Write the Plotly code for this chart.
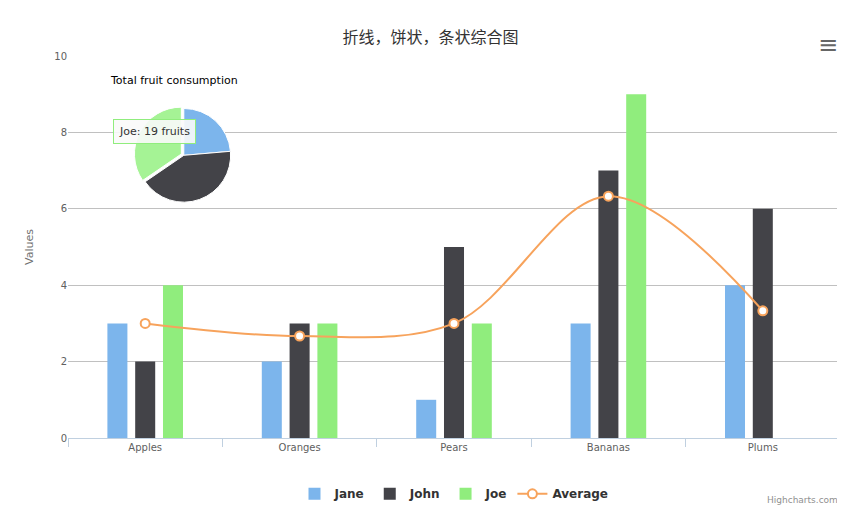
import plotly.graph_objects as go

categories = ["Apples", "Oranges", "Pears", "Bananas", "Plums"]
jane = [3, 2, 1, 3, 4]
john = [2, 3, 5, 7, 6]
joe = [4, 3, 3, 9, 0]
average = [3, 2.67, 3, 6.33, 3.33]
pie_labels = ["Jane", "John", "Joe"]
pie_values = [13, 23, 19]
colors = ["#7cb5ec", "#434348", "#90ed7d"]

fig = go.Figure()
for name, vals, c in zip(["Jane", "John", "Joe"], [jane, john, joe], colors):
    fig.add_bar(x=categories, y=vals, name=name, marker=dict(color=c, line=dict(width=0)))
fig.add_scatter(x=categories, y=average, name="Average", mode="lines+markers",
                line=dict(color="#f7a35c", width=2, shape="spline"),
                marker=dict(color="white", size=9, line=dict(color="#f7a35c", width=2)))
fig.add_pie(labels=pie_labels, values=pie_values, sort=False, direction="clockwise",
            marker=dict(colors=["#7cb5ec", "#434348", "#a5f395"], line=dict(color="white", width=1)),
            pull=[0, 0, 0.06], textinfo="none", showlegend=False,
            domain=dict(x=[0.085, 0.215], y=[0.61, 0.87]))

fig.update_layout(
    width=845, height=526, plot_bgcolor="white", paper_bgcolor="white",
    margin=dict(l=60, r=13, t=48, b=96, autoexpand=False),
    font=dict(family="DejaVu Sans", size=10, color="#606060"),
    title=dict(text="折线，饼状，条状综合图", x=0.5, y=0.955, xanchor="center",
               font=dict(family="Noto Sans CJK SC", size=16, color="#333333")),
    barmode="group", bargap=0.46, bargroupgap=0.28,
    xaxis=dict(showline=True, linecolor="#C0D0E0", ticks="outside", tickcolor="#C0D0E0",
               tickson="boundaries", ticklen=8, showgrid=False, range=[-0.5, 4.5],
               automargin=False, tickfont=dict(size=10)),
    yaxis=dict(range=[0, 10], dtick=2, gridcolor="#C0C0C0", zeroline=False, automargin=False,
               tickfont=dict(size=10),
               title=dict(text="Values", standoff=18, font=dict(size=11, color="#707070"))),
    legend=dict(orientation="h", x=0.5, xanchor="center", y=-0.146, yanchor="middle",
                font=dict(size=12, color="#333333", family="DejaVu Sans"), itemwidth=30),
    annotations=[
        dict(text="Total fruit consumption", x=(100-60)/772, y=(430-64)/382, xanchor="left",
             xref="paper", yref="paper",
             showarrow=False, font=dict(size=11, color="black")),
        dict(text="Highcharts.com", x=1, y=-0.18, xref="paper", yref="paper", xanchor="right",
             showarrow=False, font=dict(size=9, color="#909090")),
        dict(text="Joe: 19 fruits", x=0.058, y=0.835, xref="paper", yref="paper", xanchor="left",
             showarrow=False, bgcolor="rgba(249,249,249,0.9)", bordercolor="#90ed7d",
             borderwidth=1, borderpad=5, font=dict(size=11, color="#333333")),
        dict(text="≡", x=1.0, y=1.07, xref="paper", yref="paper", xanchor="right",
             showarrow=False, font=dict(size=24, color="#666666")),
    ],
)
for tr in fig.data[:4]:
    tr.name = "<b>" + tr.name + "</b>"
fig.write_html("out.html")
